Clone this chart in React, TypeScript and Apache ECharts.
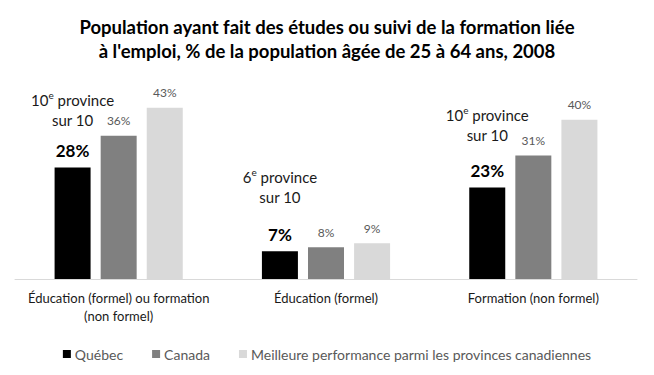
import React, { useEffect, useRef } from "react";
import * as echarts from "echarts";

const categories = [
  "Éducation (formel) ou formation\n(non formel)",
  "Éducation (formel)",
  "Formation (non formel)",
];
const seriesNames = [
  "Québec",
  "Canada",
  "Meilleure performance parmi les provinces canadiennes",
];
const quebec = [28, 7, 23];
const canada = [36, 8, 31];
const best = [43, 9, 40];
const ranks = ["10", "6", "10"];

// spacing (px) between the rank note and the Québec value, per group
const noteGap = [10, 16, 14];

const FONT = "Lato, 'Open Sans', sans-serif";

export default function App() {
  const ref = useRef<HTMLDivElement>(null);
  useEffect(() => {
    document.body.style.margin = "0";
    if (!ref.current) return;
    const chart = echarts.init(ref.current, null, { renderer: "svg" });
    const small = {
      show: true,
      position: "top",
      distance: 9,
      formatter: "{c}%",
      fontFamily: FONT,
      fontSize: 12,
      color: "#595959",
    };
    chart.setOption({
      animation: false,
      textStyle: { fontFamily: FONT },
      title: {
        text: "Population ayant fait des études ou suivi de la formation liée\nà l'emploi, % de la population âgée de 25 à 64 ans, 2008",
        left: "center",
        top: 10,
        textStyle: {
          fontFamily: FONT,
          fontSize: 18.5,
          fontWeight: "bold",
          color: "#000",
          lineHeight: 24,
        },
      },
      legend: {
        top: 342,
        left: "center",
        itemWidth: 8,
        itemHeight: 8,
        itemGap: 29,
        icon: "rect",
        textStyle: { fontFamily: FONT, fontSize: 14, color: "#595959", padding: [0, 0, 0, -1] },
        data: seriesNames,
      },
      grid: { left: 15, right: 17, top: 80, bottom: 96 },
      xAxis: {
        type: "category",
        data: categories,
        axisLine: { lineStyle: { color: "#d9d9d9", width: 1 } },
        axisTick: { show: false },
        axisLabel: {
          fontFamily: FONT,
          fontSize: 13,
          color: "#1a1a1a",
          lineHeight: 18,
          margin: 10,
          interval: 0,
        },
      },
      yAxis: {
        type: "value",
        min: 0,
        max: 50,
        show: false,
        splitLine: { show: false },
      },
      series: [
        {
          name: seriesNames[0],
          type: "bar",
          barWidth: 36,
          barGap: "28%",
          itemStyle: { color: "#000000" },
          data: quebec.map((v, i) => ({
            value: v,
            label: {
              show: true,
              position: "top",
              distance: 6,
              formatter: `{a|${ranks[i]}}{s|e}{a| province}\n{a|sur 10}\n{g|}\n{v|${v}%}`,
              rich: {
                a: { fontFamily: FONT, fontSize: 15, color: "#1a1a1a", lineHeight: 20 },
                s: { fontFamily: FONT, fontSize: 10, color: "#1a1a1a", lineHeight: 20, verticalAlign: "top", padding: [0, 0, 6, 0] },
                g: { lineHeight: noteGap[i], fontSize: 1 },
                v: { fontFamily: FONT, fontSize: 17, fontWeight: "bold", color: "#000", lineHeight: 22 },
              },
            },
          })),
        },
        {
          name: seriesNames[1],
          type: "bar",
          barWidth: 36,
          itemStyle: { color: "#808080" },
          label: small,
          data: canada,
        },
        {
          name: seriesNames[2],
          type: "bar",
          barWidth: 36,
          itemStyle: { color: "#d9d9d9" },
          label: small,
          data: best,
        },
      ],
    });
    return () => chart.dispose();
  }, []);
  return <div ref={ref} style={{ width: 654, height: 375 }} />;
}
